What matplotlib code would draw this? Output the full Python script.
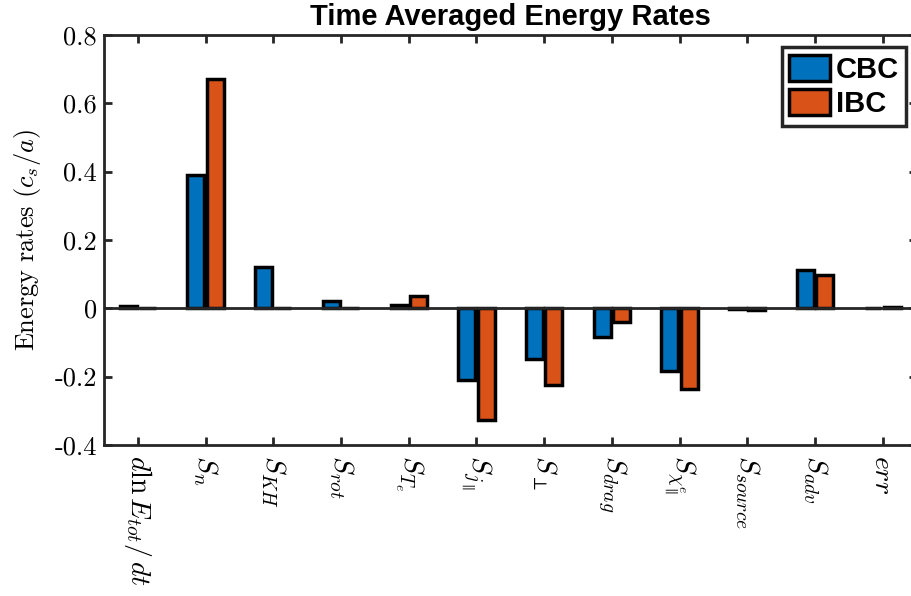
import numpy as np
import matplotlib
matplotlib.use('Agg')
import matplotlib.pyplot as plt

plt.rcParams['mathtext.fontset'] = 'cm'

# Data
terms = [r'$d\ln E_{tot}/\,dt$', r'$S_n$', r'$S_{KH}$', r'$S_{rot}$', r'$S_{T_e}$',
         r'$S_{j_\parallel}$', r'$S_\perp$', r'$S_{drag}$', r'$S_{\chi^e_\parallel}$',
         r'$S_{source}$', r'$S_{adv}$', r'$err$']
cbc = [0.006, 0.389, 0.120, 0.021, 0.011, -0.210, -0.148, -0.084, -0.183, -0.002, 0.111, 0.001]
ibc = [0.001, 0.670, 0.001, 0.001, 0.035, -0.327, -0.225, -0.040, -0.235, -0.006, 0.096, 0.003]
yticks = [-0.4, -0.2, 0, 0.2, 0.4, 0.6, 0.8]
ytick_labels = ['-0.4', '-0.2', '0', '0.2', '0.4', '0.6', '0.8']

axis_col = '#262626'

fig = plt.figure(figsize=(9.12, 5.96), dpi=100)
ax = fig.add_axes([0.114, 0.2534, 0.891, 0.688])

x = np.arange(1, len(terms) + 1)
off = 0.143
w = 0.25
ax.bar(x - off, cbc, w, color='#0072BD', edgecolor='black', linewidth=2.5, label='CBC', zorder=3)
ax.bar(x + off, ibc, w, color='#D95319', edgecolor='black', linewidth=2.5, label='IBC', zorder=3)
ax.axhline(0, color=axis_col, linewidth=2, zorder=4)

ax.set_xlim(0.5, 12.5)
ax.set_ylim(-0.4, 0.8)
ax.set_xticks(x)
ax.set_xticklabels(terms, rotation=-90, fontsize=20, ha='center', va='top')
ax.set_yticks(yticks)
ax.set_yticklabels(ytick_labels, family='cmr10', fontsize=19)

for s in ax.spines.values():
    s.set_linewidth(2)
    s.set_color(axis_col)
ax.tick_params(direction='in', length=6, width=2, color=axis_col, top=True, right=True, pad=5)
ax.tick_params(axis='x', pad=7)

ax.set_ylabel(r'$\mathrm{Energy\ rates}\ (c_s/a)$', fontsize=19, labelpad=8)
ax.set_title('Time Averaged Energy Rates', fontsize=21, fontweight='bold',
             family='Liberation Sans', pad=7)

leg = ax.legend(loc='upper right', bbox_to_anchor=(0.987, 0.97),
                prop={'family': 'Liberation Sans', 'weight': 'bold', 'size': 21},
                fancybox=False, framealpha=1, edgecolor=axis_col,
                handlelength=1.4, handleheight=1.0, handletextpad=0.2,
                labelspacing=0.2, borderpad=0.25, borderaxespad=0)
leg.get_frame().set_linewidth(2.5)

fig.savefig('out.png', dpi=100)
